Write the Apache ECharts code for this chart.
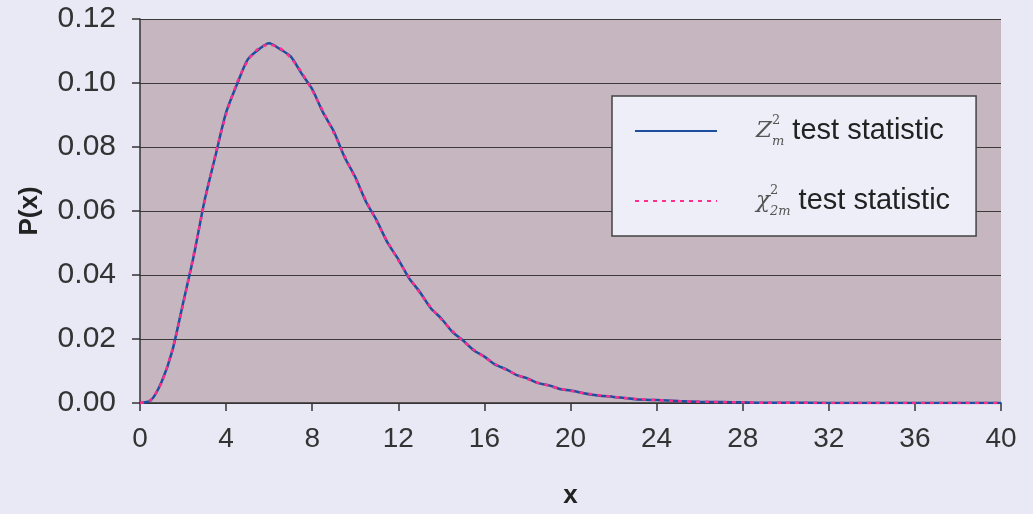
<!DOCTYPE html>
<html>
<head>
<meta charset="utf-8">
<title>P(x)</title>
<script src="https://cdn.jsdelivr.net/npm/echarts@6/dist/echarts.min.js"></script>
<style>
    html, body { margin: 0; padding: 0; background: #e9e9f5; }
    #main { width: 1033px; height: 514px; }
</style>
</head>
<body>
<div id="main"></div>
<script>
// x positions
var xValues = [0, 0.5, 1, 1.5, 2, 2.5, 3, 3.5, 4, 4.5, 5, 5.5, 6, 6.5, 7, 7.5, 8, 8.5, 9, 9.5,
    10, 10.5, 11, 11.5, 12, 12.5, 13, 13.5, 14, 14.5, 15, 15.5, 16, 16.5, 17, 17.5, 18, 18.5, 19, 19.5,
    20, 21, 22, 23, 24, 25, 26, 27, 28, 29, 30, 32, 34, 36, 38, 40];

// Z_m^2 test statistic (blue, slightly noisy)
var zValues = [0, 0.0008, 0.0066, 0.0163, 0.0312, 0.0461, 0.0633, 0.0771, 0.0908, 0.0995,
    0.1073, 0.1104, 0.1124, 0.1106, 0.1083, 0.1030, 0.0981, 0.0908, 0.0849, 0.0769,
    0.0706, 0.0629, 0.0570, 0.0501, 0.0449, 0.0390, 0.0347, 0.0297, 0.0264, 0.0223,
    0.0196, 0.0165, 0.0145, 0.0120, 0.0106, 0.0087, 0.0077, 0.0062, 0.0055, 0.0044,
    0.0039, 0.0026, 0.0019, 0.0012, 0.0009, 0.0006, 0.0004, 0.0003, 0.0002, 0.0001,
    0.0001, 0, 0, 0, 0, 0];

// chi^2_2m test statistic (pink dotted)
var chiValues = [0, 0.0010, 0.0063, 0.0166, 0.0307, 0.0466, 0.0628, 0.0776, 0.0902, 0.1000,
    0.1069, 0.1108, 0.1120, 0.1109, 0.1079, 0.1034, 0.0977, 0.0912, 0.0844, 0.0773,
    0.0702, 0.0633, 0.0567, 0.0504, 0.0446, 0.0393, 0.0344, 0.0300, 0.0261, 0.0226,
    0.0194, 0.0167, 0.0143, 0.0122, 0.0104, 0.0089, 0.0075, 0.0063, 0.0054, 0.0045,
    0.0038, 0.0027, 0.0019, 0.0013, 0.0009, 0.0006, 0.0004, 0.0003, 0.0002, 0.0001,
    0.0001, 0, 0, 0, 0, 0];

var xTicks = [0, 4, 8, 12, 16, 20, 24, 28, 32, 36, 40];

var zName = 'Z_m^2 test statistic';
var chiName = 'chi_2m^2 test statistic';

function pairs(xs, ys) {
    var out = [];
    for (var i = 0; i < xs.length; i++) {
        out.push([xs[i], ys[i]]);
    }
    return out;
}

var chart = echarts.init(document.getElementById('main'));

var labelFont = '"Liberation Sans", Arial, sans-serif';
var mathFont = '"DejaVu Serif", "Liberation Serif", serif';

var option = {
    backgroundColor: '#e9e9f5',
    animation: false,
    grid: {
        left: 140,
        right: 32,
        top: 19,
        bottom: 110,
        show: true,
        backgroundColor: '#c6b6bf',
        borderWidth: 0
    },
    legend: {
        orient: 'vertical',
        left: 612,
        top: 96,
        padding: [18, 26, 18, 22],
        itemGap: 36,
        itemWidth: 82,
        itemHeight: 14,
        backgroundColor: '#eeeef8',
        borderColor: '#444',
        borderWidth: 1.5,
        borderRadius: 0,
        itemStyle: { opacity: 0 },
        data: [zName, chiName],
        formatter: function (name) {
            if (name === zName) {
                return '{z|Z}{sp|2}{sb|m}{t| test statistic}';
            }
            return '{z|\u03c7}{sp|2}{sb|2m}{t| test statistic}';
        },
        textStyle: {
            rich: {
                z: {
                    fontFamily: mathFont,
                    fontStyle: 'italic',
                    fontSize: 23,
                    color: '#555',
                    padding: [0, 0, 0, 34],
                    lineHeight: 34
                },
                sp: {
                    fontFamily: mathFont,
                    fontSize: 13,
                    color: '#555',
                    width: 0,
                    verticalAlign: 'top',
                    lineHeight: 20
                },
                sb: {
                    fontFamily: mathFont,
                    fontStyle: 'italic',
                    fontSize: 13,
                    color: '#555',
                    verticalAlign: 'bottom',
                    lineHeight: 16
                },
                t: {
                    fontFamily: labelFont,
                    fontSize: 29,
                    color: '#222',
                    lineHeight: 34
                }
            }
        }
    },
    xAxis: {
        type: 'value',
        min: 0,
        max: 40,
        interval: 4,
        name: 'x',
        nameLocation: 'middle',
        nameGap: 80,
        nameTextStyle: {
            fontFamily: labelFont,
            fontSize: 26,
            fontWeight: 'bold',
            color: '#222'
        },
        axisLine: { show: true, lineStyle: { color: '#333', width: 1.5 } },
        axisTick: { show: true, length: 8, lineStyle: { color: '#333', width: 1.5 } },
        axisLabel: {
            margin: 22,
            fontFamily: labelFont,
            fontSize: 28,
            color: '#333',
            customValues: xTicks
        },
        splitLine: { show: false }
    },
    yAxis: {
        type: 'value',
        min: 0,
        max: 0.12,
        interval: 0.02,
        name: 'P(x)',
        nameLocation: 'middle',
        nameGap: 97,
        nameTextStyle: {
            fontFamily: labelFont,
            fontSize: 26,
            fontWeight: 'bold',
            color: '#222'
        },
        axisLine: { show: true, lineStyle: { color: '#333', width: 1.5 } },
        axisTick: { show: true, length: 8, lineStyle: { color: '#333', width: 1.5 } },
        axisLabel: {
            margin: 24,
            fontFamily: labelFont,
            fontSize: 30,
            color: '#333',
            formatter: function (v) {
                return v.toFixed(2);
            }
        },
        splitLine: { show: true, lineStyle: { color: '#3a3a3a', width: 1.2 } }
    },
    series: [
        {
            name: zName,
            type: 'line',
            showSymbol: false,
            symbol: 'none',
            smooth: 0.25,
            data: pairs(xValues, zValues),
            lineStyle: { color: '#1d4f9e', width: 2.5 },
            itemStyle: { color: '#1d4f9e' }
        },
        {
            name: chiName,
            type: 'line',
            showSymbol: false,
            symbol: 'none',
            smooth: 0.25,
            data: pairs(xValues, chiValues),
            lineStyle: { color: '#ff2d8c', width: 2.5, type: [4, 5] },
            itemStyle: { color: '#ff2d8c' }
        }
    ]
};

chart.setOption(option);
</script>
</body>
</html>
